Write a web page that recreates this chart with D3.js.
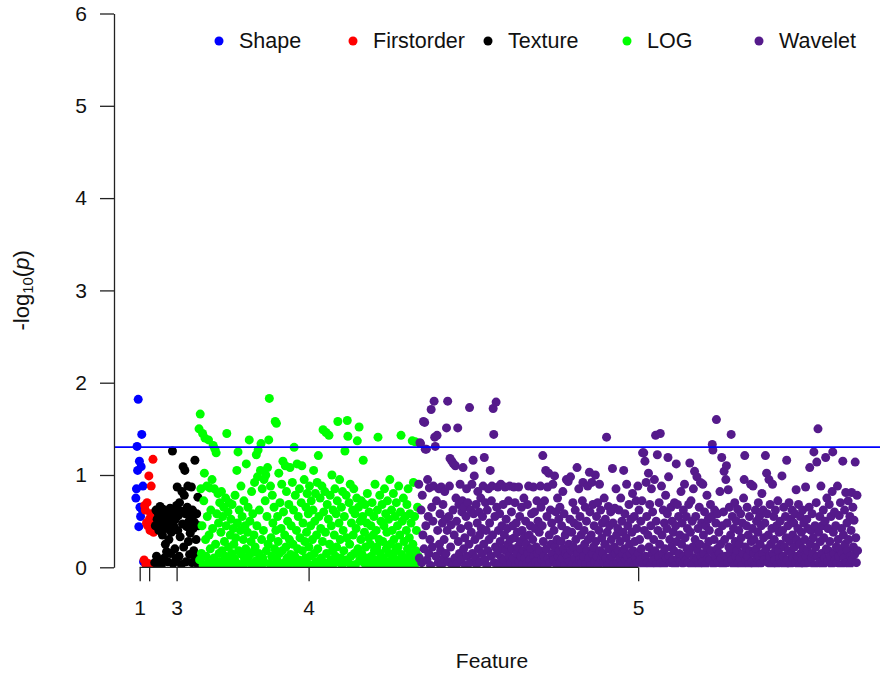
<!DOCTYPE html>
<html>
<head>
<meta charset="utf-8">
<script src="https://cdn.jsdelivr.net/npm/d3@7"></script>
<style>
  body { margin: 0; background: #fff; }
  svg { display: block; font-family: "Liberation Sans", Arial, sans-serif; }
</style>
</head>
<body>
<div id="root"></div>
<script>
// feature groups, in plotting order
const groupNames = ["Shape", "Firstorder", "Texture", "LOG", "Wavelet"];
const groupColors = ["#0000FF", "#FF0000", "#000000", "#00FF00", "#551A8B"];
const xTickLabels = ["1", "2", "3", "4", "5"];
const yTicks = [0, 1, 2, 3, 4, 5, 6];
const threshold = -Math.log10(0.05);

// -log10(p) per feature
const shapeValues = [0.75, 0.85, 1.31, 1.05, 1.82, 0.44, 1.15, 0.65, 0.55, 1.09, 1.44, 0.62, 0.88, 0.06];

const firstorderValues = [0.08, 0.67, 0.62, 0.03, 0.48, 0.70, 0.45, 0.04, 0.99, 0.52, 0.40, 0.58, 0.88, 0.43, 0.02, 1.17, 0.38, 0.47];

const textureValues = [
  0.05, 0.45, 0.62, 0.12, 0.52, 0.03, 0.58, 0.40, 0.08, 0.66,
  0.48, 0.02, 0.55, 0.35, 0.63, 0.44, 0.10, 0.50, 0.25, 0.60,
  0.17, 0.42, 0.06, 0.57, 0.30, 0.48, 0.64, 0.15, 0.38, 0.53,
  1.26, 0.04, 0.45, 0.60, 0.20, 0.52, 0.09, 0.67, 0.87, 0.40,
  0.56, 0.12, 0.70, 0.33, 0.61, 0.03, 0.82, 0.47, 1.09, 0.22,
  0.78, 1.05, 0.58, 0.06, 0.44, 0.65, 0.88, 0.28, 0.50, 0.14,
  0.37, 0.55, 0.87, 0.05, 0.62, 0.42, 0.18, 0.49, 1.16, 0.10,
  0.30, 0.58, 0.04, 0.76, 0.45
];

const logValues = [
  1.50, 0.08, 1.66, 0.85, 0.15, 0.45, 1.45, 0.02, 0.72, 1.02, 1.40, 0.30,
  0.12, 0.88, 0.55, 0.05, 1.38, 0.35, 0.86, 0.20, 0.62, 0.04, 0.95, 0.42,
  1.32, 0.10, 0.85, 1.28, 0.25, 1.24, 0.58, 0.03, 0.80, 0.48, 0.15, 0.70,
  0.06, 0.38, 0.82, 0.18, 0.55, 0.02, 0.65, 0.28, 0.12, 0.75, 0.45, 1.45,
  0.08, 0.60, 0.22, 0.70, 0.04, 0.35, 0.52, 0.15, 0.68, 0.02, 0.42, 0.25,
  0.10, 0.78, 0.32, 0.05, 1.05, 0.48, 1.25, 0.18, 0.62, 0.03, 0.40, 0.88,
  0.14, 0.55, 0.02, 0.30, 0.72, 0.09, 0.45, 0.20, 1.12, 0.06, 0.38, 0.65,
  0.12, 1.38, 0.50, 0.04, 0.28, 0.82, 0.16, 0.58, 0.03, 0.35, 0.92, 0.22,
  0.07, 1.22, 0.45, 0.98, 1.27, 0.15, 0.62, 0.02, 1.05, 1.34, 0.30, 0.85,
  0.10, 0.40, 0.95, 0.05, 0.72, 1.00, 0.18, 0.55, 1.08, 0.25, 1.38, 1.83,
  0.04, 0.88, 0.32, 0.12, 0.78, 0.48, 0.02, 0.65, 0.20, 1.58, 0.40, 1.56,
  0.08, 0.55, 0.28, 1.02, 0.15, 0.70, 0.03, 0.42, 0.90, 0.18, 1.15, 0.60,
  0.05, 0.35, 1.10, 0.22, 0.82, 0.10, 0.50, 0.02, 0.68, 0.30, 1.08, 0.14,
  0.45, 0.06, 0.92, 0.25, 0.62, 1.30, 0.12, 0.78, 0.03, 0.40, 1.12, 0.20,
  0.55, 0.08, 0.85, 0.32, 0.02, 0.70, 1.10, 0.18, 0.48, 0.05, 0.95, 0.28,
  0.10, 0.65, 0.38, 0.80, 0.04, 0.58, 0.22, 0.88, 0.12, 0.45, 0.72, 0.02,
  0.30, 0.62, 1.05, 0.15, 0.50, 0.80, 0.06, 0.35, 0.92, 0.20, 1.21, 0.55,
  0.03, 0.75, 0.42, 0.10, 0.88, 0.28, 1.49, 0.60, 0.05, 0.82, 0.38, 1.46,
  0.15, 0.68, 0.02, 0.52, 1.43, 0.25, 0.78, 0.08, 0.45, 1.00, 0.18, 0.62,
  0.04, 0.35, 0.85, 0.12, 0.58, 0.22, 0.72, 1.58, 0.06, 0.48, 0.95, 0.30,
  0.10, 0.65, 0.02, 0.82, 0.40, 0.18, 0.55, 1.26, 0.08, 0.78, 0.32, 1.59,
  1.42, 0.05, 0.70, 0.25, 0.90, 0.12, 0.48, 0.02, 0.62, 0.35, 0.85, 0.15,
  0.58, 0.03, 0.42, 0.75, 1.37, 0.20, 0.65, 1.52, 0.08, 0.50, 0.30, 0.72,
  0.14, 0.55, 1.16, 0.05, 0.38, 0.68, 0.22, 0.02, 0.48, 0.80, 0.10, 0.32,
  0.60, 0.04, 0.25, 0.45, 0.12, 0.70, 0.02, 0.35, 0.55, 0.18, 0.90, 0.08,
  0.40, 0.22, 0.62, 1.41, 0.05, 0.30, 0.78, 0.15, 0.50, 0.02, 0.68, 0.28,
  0.10, 0.45, 0.85, 0.03, 0.58, 0.20, 0.38, 0.72, 0.06, 0.52, 0.15, 0.95,
  0.25, 0.02, 0.62, 0.40, 0.12, 0.80, 0.30, 0.05, 0.55, 0.18, 0.70, 0.08,
  0.45, 0.22, 0.88, 0.03, 0.35, 0.60, 1.43, 0.14, 0.50, 0.06, 0.75, 0.28,
  0.10, 0.55, 0.02, 0.40, 0.68, 0.20, 0.85, 0.05, 0.32, 0.58, 0.15, 0.48,
  0.08, 1.37, 0.25, 0.92, 0.02, 0.55, 1.36, 0.18, 0.40, 0.05, 0.65, 0.12
];

const waveletValues = [
  0.90, 0.10, 1.35, 1.34, 0.62, 0.05, 0.78, 0.35, 1.58, 0.20, 1.57, 1.28,
  0.45, 1.28, 0.08, 0.95, 0.55, 0.15, 0.86, 0.30, 0.02, 1.71, 0.65, 0.22,
  0.50, 0.88, 1.80, 1.41, 1.31, 0.12, 0.72, 1.43, 0.40, 0.05, 0.85, 0.25,
  0.58, 0.18, 0.87, 0.03, 0.48, 0.68, 0.10, 0.30, 0.82, 0.52, 0.15, 1.51,
  0.40, 1.80, 0.06, 0.55, 0.88, 1.18, 0.22, 0.46, 1.15, 0.02, 0.62, 1.12,
  0.35, 0.10, 1.10, 0.75, 0.50, 0.04, 1.51, 0.28, 0.68, 0.15, 0.90, 0.42,
  0.08, 0.60, 0.72, 1.08, 0.20, 0.65, 0.32, 0.02, 0.55, 0.85, 0.12, 0.70,
  0.45, 0.25, 1.73, 0.05, 0.62, 0.38, 0.90, 0.15, 1.16, 0.58, 0.99, 0.30,
  0.10, 0.68, 0.03, 0.48, 0.82, 0.20, 0.60, 0.35, 0.06, 0.75, 0.42, 0.15,
  0.55, 0.88, 0.25, 1.19, 0.08, 0.70, 0.40, 0.02, 0.62, 0.18, 0.85, 0.30,
  0.48, 1.05, 0.12, 0.72, 0.88, 0.35, 1.72, 1.44, 0.05, 0.55, 0.22, 1.79,
  0.65, 0.15, 0.87, 0.40, 0.03, 0.58, 0.28, 0.90, 0.10, 0.45, 0.20, 0.68,
  0.08, 0.35, 0.87, 0.18, 0.52, 0.02, 0.42, 0.25, 0.72, 0.12, 0.88, 0.30,
  0.05, 0.60, 0.20, 0.45, 0.10, 0.87, 0.32, 0.70, 0.02, 0.48, 0.15, 0.38,
  0.22, 0.87, 0.06, 0.55, 0.28, 0.12, 0.65, 0.40, 0.03, 0.18, 0.75, 0.33,
  0.10, 0.50, 0.25, 0.04, 0.68, 0.15, 0.88, 0.35, 0.08, 0.45, 0.20, 0.58,
  0.02, 0.30, 0.87, 0.12, 0.60, 0.42, 0.06, 0.22, 0.72, 0.15, 0.50, 0.03,
  0.38, 0.18, 0.88, 0.65, 0.08, 0.45, 1.21, 0.28, 0.12, 0.72, 0.02, 1.05,
  0.20, 0.55, 0.87, 0.10, 1.02, 0.35, 0.05, 0.62, 0.25, 0.48, 0.15, 0.90,
  0.08, 0.40, 0.99, 0.22, 0.60, 0.03, 0.30, 0.75, 0.12, 0.52, 0.18, 0.65,
  0.05, 0.28, 0.45, 0.10, 0.82, 0.20, 0.58, 0.02, 0.35, 0.15, 0.95, 0.40,
  0.12, 0.93, 0.25, 0.06, 0.52, 0.98, 0.18, 0.38, 0.03, 0.70, 0.22, 0.48,
  0.10, 0.62, 0.30, 0.02, 1.08, 0.15, 0.45, 0.85, 0.08, 0.55, 0.20, 0.35,
  0.05, 0.72, 0.92, 0.12, 0.40, 0.25, 0.65, 0.03, 0.50, 0.18, 0.88, 0.30,
  0.10, 1.03, 0.60, 0.02, 0.35, 0.92, 0.15, 0.68, 0.22, 0.45, 0.06, 1.00,
  0.28, 0.55, 0.12, 0.70, 0.03, 0.40, 0.90, 0.18, 0.62, 0.08, 0.32, 0.48,
  0.15, 0.05, 0.75, 0.25, 0.52, 0.10, 1.41, 0.38, 0.02, 0.66, 0.20, 0.45,
  0.08, 0.60, 0.30, 0.12, 1.07, 0.48, 0.03, 0.22, 0.64, 0.15, 0.85, 0.35,
  0.05, 0.42, 0.18, 0.62, 0.10, 0.28, 0.75, 0.02, 0.50, 0.15, 0.38, 1.05,
  0.20, 0.58, 0.08, 0.32, 0.90, 0.12, 0.45, 0.03, 0.68, 0.25, 0.15, 0.52,
  0.06, 0.38, 0.80, 0.18, 0.02, 0.55, 0.28, 0.10, 0.72, 0.42, 0.05, 0.88,
  0.15, 0.62, 0.30, 0.08, 0.50, 0.20, 0.72, 1.24, 0.03, 1.24, 0.40, 1.15,
  0.12, 0.92, 0.55, 0.05, 0.35, 1.02, 0.22, 0.68, 0.02, 0.45, 0.85, 0.15,
  0.60, 0.08, 0.30, 0.95, 0.18, 1.43, 0.50, 0.03, 1.22, 0.40, 0.12, 0.70,
  0.25, 1.45, 0.05, 0.88, 0.35, 0.15, 0.62, 0.02, 0.48, 0.20, 0.78, 0.10,
  0.42, 0.58, 1.19, 0.98, 0.12, 0.30, 0.05, 0.65, 0.22, 0.50, 0.08, 0.38,
  0.18, 0.70, 0.02, 0.45, 1.12, 0.28, 0.68, 0.10, 0.55, 0.15, 0.35, 0.06,
  0.82, 0.25, 0.48, 0.04, 0.62, 0.12, 0.90, 0.32, 0.08, 0.55, 0.20, 0.42,
  0.05, 0.68, 0.15, 1.13, 0.38, 0.72, 0.02, 0.50, 0.22, 0.85, 0.10, 1.04,
  0.30, 0.55, 0.08, 0.98, 0.18, 0.42, 0.03, 0.65, 0.25, 0.92, 0.12, 0.48,
  0.06, 0.90, 0.35, 0.15, 0.60, 0.02, 0.45, 0.22, 0.78, 0.10, 0.52, 0.28,
  0.40, 0.08, 0.68, 0.18, 0.55, 1.33, 1.27, 0.03, 0.30, 0.62, 0.12, 0.48,
  1.60, 0.20, 0.58, 0.05, 0.38, 0.15, 0.82, 0.25, 0.10, 1.19, 0.45, 0.02,
  0.60, 1.04, 0.30, 0.12, 0.95, 1.10, 0.48, 0.05, 0.84, 0.22, 0.65, 0.15,
  0.35, 1.44, 0.08, 0.55, 0.20, 0.42, 0.02, 0.70, 0.28, 0.12, 0.50, 0.18,
  0.63, 0.05, 0.40, 0.25, 0.10, 0.58, 0.32, 0.02, 0.48, 0.15, 0.75, 0.95,
  1.21, 0.22, 0.08, 0.45, 0.65, 0.12, 0.35, 0.03, 0.55, 0.18, 0.90, 0.28,
  0.06, 0.42, 0.88, 0.15, 0.30, 0.02, 0.62, 0.20, 0.50, 0.10, 0.38, 0.70,
  0.12, 0.55, 0.25, 0.04, 0.45, 0.80, 0.15, 0.62, 0.32, 0.08, 0.48, 1.21,
  0.20, 1.02, 0.58, 0.05, 0.35, 0.95, 0.12, 0.68, 0.25, 0.02, 0.42, 0.90,
  0.15, 0.55, 0.30, 0.08, 0.62, 0.20, 0.45, 0.03, 0.72, 0.18, 0.38, 0.10,
  0.50, 0.25, 0.05, 0.99, 0.40, 0.12, 0.65, 0.22, 0.02, 0.55, 0.32, 1.16,
  0.08, 0.45, 0.18, 0.70, 0.28, 0.03, 0.52, 0.15, 0.62, 0.35, 0.10, 0.48,
  0.22, 0.58, 0.05, 0.84, 0.30, 0.12, 0.42, 0.68, 0.02, 0.25, 0.55, 0.15,
  0.38, 0.08, 0.62, 0.20, 0.48, 0.03, 0.30, 0.87, 0.12, 0.52, 0.18, 0.42,
  0.05, 0.65, 1.08, 0.25, 0.40, 0.10, 0.58, 0.15, 0.32, 1.25, 0.02, 0.45,
  0.22, 0.70, 1.14, 0.12, 1.50, 0.38, 0.05, 0.55, 0.28, 0.88, 0.15, 0.45,
  0.02, 0.62, 0.32, 0.10, 0.50, 1.19, 0.20, 0.75, 0.06, 0.42, 0.18, 0.68,
  0.28, 0.12, 0.55, 0.03, 0.82, 1.25, 0.38, 0.15, 0.60, 0.08, 0.45, 0.22,
  0.05, 0.88, 0.30, 0.12, 0.56, 0.20, 0.70, 0.02, 0.42, 0.15, 1.15, 0.35,
  0.10, 0.62, 0.25, 0.81, 0.05, 0.48, 0.18, 0.72, 0.30, 0.02, 0.55, 0.12,
  0.40, 0.81, 0.08, 0.65, 0.22, 0.51, 0.14, 1.14, 0.32, 0.05, 0.78, 0.18
];

const groupValues = [shapeValues, firstorderValues, textureValues, logValues, waveletValues];

const width = 886;
const height = 675;
const plot = { left: 114, right: 880, top: 13.5, bottom: 567.3 };
const pointRadius = 4.5;

// flatten into one running feature index, like the original manhattan plot
let points = [];
let groupCenters = [];
let offset = 0;
groupValues.forEach((values, g) => {
  values.forEach((v, i) => points.push({ index: offset + i, value: v, group: g }));
  groupCenters.push(offset + (values.length - 1) / 2);
  offset += values.length;
});
const total = offset;

const xScale = d3.scaleLinear().domain([-37, total + 37]).range([plot.left, plot.right]);
const yScale = d3.scaleLinear().domain([0, 6]).range([plot.bottom, plot.top]);
const colorScale = d3.scaleOrdinal().domain(d3.range(groupNames.length)).range(groupColors);

const svg = d3.select("#root")
  .append("svg")
  .attr("width", width)
  .attr("height", height)
  .attr("viewBox", `0 0 ${width} ${height}`);

svg.append("rect").attr("width", width).attr("height", height).attr("fill", "#fff");

svg.append("clipPath")
  .attr("id", "plot-clip")
  .append("rect")
  .attr("x", plot.left)
  .attr("y", plot.top)
  .attr("width", plot.right - plot.left)
  .attr("height", plot.bottom - plot.top);

// points
svg.append("g")
  .attr("clip-path", "url(#plot-clip)")
  .selectAll("circle")
  .data(points)
  .join("circle")
  .attr("cx", (d) => xScale(d.index))
  .attr("cy", (d) => yScale(d.value))
  .attr("r", pointRadius)
  .attr("fill", (d) => colorScale(d.group));

// p = 0.05 line
svg.append("line")
  .attr("x1", plot.left)
  .attr("x2", plot.right)
  .attr("y1", yScale(threshold))
  .attr("y2", yScale(threshold))
  .attr("stroke", "#0000FF")
  .attr("stroke-width", 1.8);

// left axis
const leftAxis = d3.axisLeft(yScale)
  .tickValues(yTicks)
  .tickFormat(d3.format("d"))
  .tickSize(14)
  .tickPadding(13)
  .tickSizeOuter(0);
const yAxisG = svg.append("g")
  .attr("transform", `translate(${plot.left}, 0)`)
  .call(leftAxis);

// bottom axis, line only between the first and last tick (R style)
const bottomAxis = d3.axisBottom(xScale)
  .tickValues(groupCenters)
  .tickFormat((d, i) => xTickLabels[i])
  .tickSize(14)
  .tickPadding(19)
  .tickSizeOuter(0);
const xAxisG = svg.append("g")
  .attr("transform", `translate(0, ${plot.bottom})`)
  .call(bottomAxis);
xAxisG.select(".domain")
  .attr("d", `M${xScale(groupCenters[0])},0H${xScale(groupCenters[groupCenters.length - 1])}`);

[yAxisG, xAxisG].forEach((g) => {
  g.selectAll("path, line").attr("stroke", "#222").attr("stroke-width", 1.3);
  g.selectAll("text").attr("fill", "#111").style("font-size", "21px").style("font-family", "Liberation Sans, Arial, sans-serif");
});

// R drops axis labels that would collide with the previous one
let lastRight = -Infinity;
xAxisG.selectAll(".tick text").each(function () {
  const box = this.getBBox();
  const tx = +this.parentNode.getAttribute("transform").match(/translate\(([-\d.]+)/)[1];
  const left = tx + box.x;
  if (left < lastRight + 4) {
    d3.select(this).attr("display", "none");
  } else {
    lastRight = tx + box.x + box.width;
  }
});

// axis titles
const yTitle = svg.append("text")
  .attr("transform", `translate(29, ${(plot.top + plot.bottom) / 2}) rotate(-90)`)
  .attr("text-anchor", "middle")
  .attr("fill", "#111")
  .style("font-size", "22px");
yTitle.append("tspan").text("-log");
yTitle.append("tspan").text("10").attr("baseline-shift", "-25%").style("font-size", "15px");
yTitle.append("tspan").text("(");
yTitle.append("tspan").text("p").style("font-style", "italic");
yTitle.append("tspan").text(")");

svg.append("text")
  .attr("x", (plot.left + plot.right) / 2 - 5)
  .attr("y", 668)
  .attr("text-anchor", "middle")
  .attr("fill", "#111")
  .style("font-size", "21px")
  .text("Feature");

// legend
const legendX = [219, 353, 488, 627, 759];
const legend = svg.append("g")
  .selectAll("g")
  .data(groupNames)
  .join("g")
  .attr("transform", (d, i) => `translate(${legendX[i]}, 41)`);
legend.append("circle")
  .attr("r", pointRadius)
  .attr("fill", (d, i) => colorScale(i));
legend.append("text")
  .attr("x", 20)
  .attr("y", 7)
  .attr("fill", "#111")
  .style("font-size", "21.5px")
  .text((d) => d);
</script>
</body>
</html>
